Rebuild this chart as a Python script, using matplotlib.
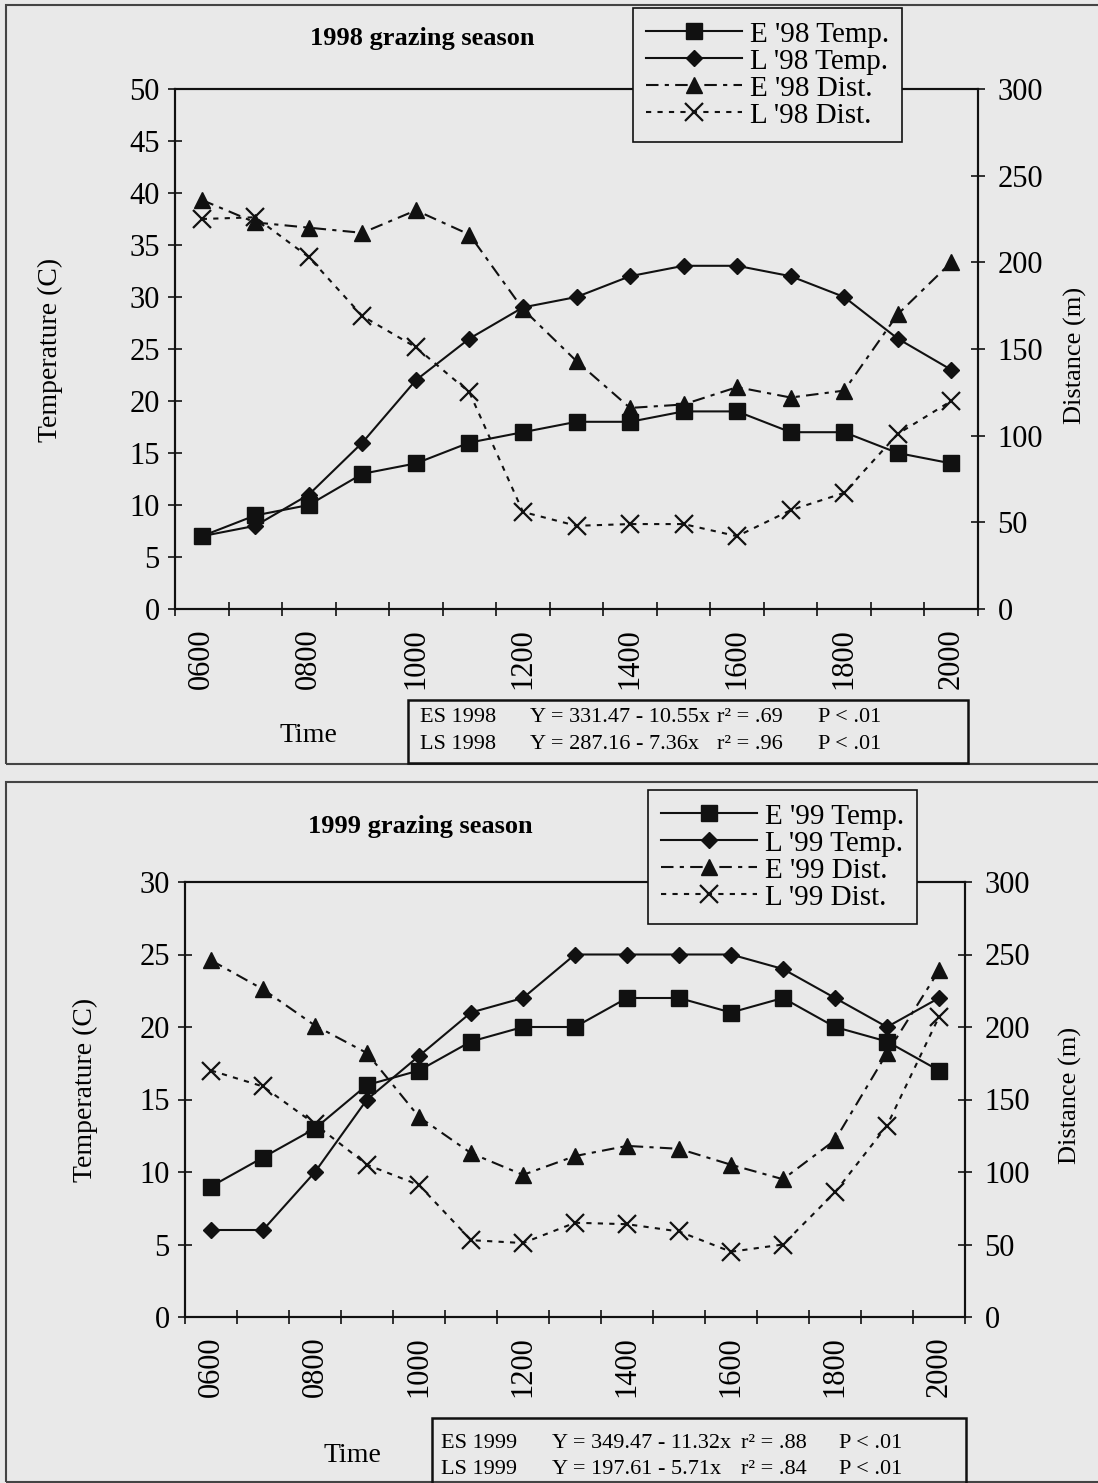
import numpy as np
import matplotlib.pyplot as plt
from matplotlib.patches import Rectangle

# hours 0600..2000, one reading per hour
hours = ['0600', '0700', '0800', '0900', '1000', '1100', '1200', '1300',
         '1400', '1500', '1600', '1700', '1800', '1900', '2000']
hour_labels = ['0600', '0800', '1000', '1200', '1400', '1600', '1800', '2000']

# 1998 season
e98_temp = [7, 9, 10, 13, 14, 16, 17, 18, 18, 19, 19, 17, 17, 15, 14]
l98_temp = [7, 8, 11, 16, 22, 26, 29, 30, 32, 33, 33, 32, 30, 26, 23]
e98_dist = [236, 223, 220, 217, 230, 216, 173, 143, 116, 118, 128, 122, 126, 170, 200]
l98_dist = [225, 226, 203, 169, 151, 125, 56, 48, 49, 49, 42, 57, 67, 101, 120]

# 1999 season
e99_temp = [9, 11, 13, 16, 17, 19, 20, 20, 22, 22, 21, 22, 20, 19, 17]
l99_temp = [6, 6, 10, 15, 18, 21, 22, 25, 25, 25, 25, 24, 22, 20, 22]
e99_dist = [246, 226, 201, 182, 138, 113, 98, 111, 118, 116, 105, 95, 122, 182, 239]
l99_dist = [170, 159, 133, 105, 91, 53, 51, 65, 64, 59, 45, 50, 86, 132, 207]

stats98 = [['ES 1998', 'Y = 331.47 - 10.55x', 'r\u00b2 = .69', 'P < .01'],
           ['LS 1998', 'Y = 287.16 - 7.36x', 'r\u00b2 = .96', 'P < .01']]
stats99 = [['ES 1999', 'Y = 349.47 - 11.32x', 'r\u00b2 = .88', 'P < .01'],
           ['LS 1999', 'Y = 197.61 - 5.71x', 'r\u00b2 = .84', 'P < .01']]

plt.rcParams['font.family'] = ['Liberation Serif', 'DejaVu Serif']

W, H = 1098, 1483
BG = '#e9e9e9'
INK = '#111111'
FS = 19
TICK_FS = 22

fig = plt.figure(figsize=(W / 100, H / 100), dpi=100, facecolor=BG)


def rect(l, t, r, b):
    return [l / W, 1 - b / H, (r - l) / W, (b - t) / H]


def fx(x):
    return x / W


def fy(y):
    return 1 - y / H


def panel(box, tmax, tstep, series, year, title_xy, leg_xy, time_xy,
          tlab_xy, dlab_xy, sbox, stats, scols, srows):
    ax = fig.add_axes(rect(*box))
    ax.set_facecolor('none')
    ax2 = ax.twinx()
    x = np.arange(len(hours))
    et, lt, ed, ld = series

    h1, = ax.plot(x, et, color=INK, lw=1.5, marker='s', ms=12)
    h2, = ax.plot(x, lt, color=INK, lw=1.5, marker='D', ms=8)
    h3, = ax2.plot(x, ed, color=INK, lw=1.5, ls=(0, (6, 3, 2, 3)),
                   marker='^', ms=11)
    h4, = ax2.plot(x, ld, color=INK, lw=1.5, ls=(0, (2.5, 3)),
                   marker='x', ms=13, mew=1.6)

    ax.set_xlim(-0.5, len(hours) - 0.5)
    ax.set_ylim(0, tmax)
    ax2.set_ylim(0, 300)
    ax.set_yticks(np.arange(0, tmax + 1, tstep))
    ax2.set_yticks(np.arange(0, 301, 50))

    ax.set_xticks(np.arange(-0.5, len(hours), 1))
    ax.set_xticklabels([])
    ax.set_xticks(np.arange(0, len(hours), 2), minor=True)
    ax.set_xticklabels(hour_labels, minor=True, rotation=90, fontsize=TICK_FS)
    ax.tick_params(axis='x', which='minor', length=0, pad=14)
    ax.tick_params(axis='x', which='major', direction='inout', length=10,
                   width=1.2, color=INK)
    ax.tick_params(axis='y', direction='inout', length=10, width=1.2,
                   labelsize=TICK_FS, pad=6, color=INK)
    ax2.tick_params(axis='y', direction='inout', length=10, width=1.2,
                    labelsize=TICK_FS, pad=9, color=INK)
    for a in (ax, ax2):
        for s in a.spines.values():
            s.set_linewidth(1.5)
            s.set_color(INK)

    fig.text(fx(title_xy[0]), fy(title_xy[1]), f'{year} grazing season',
             ha='center', va='center', fontsize=FS, fontweight='bold')
    fig.text(fx(time_xy[0]), fy(time_xy[1]), 'Time', ha='center',
             va='center', fontsize=20)
    fig.text(fx(tlab_xy[0]), fy(tlab_xy[1]), 'Temperature (C)', ha='center',
             va='center', rotation=90, fontsize=20)
    fig.text(fx(dlab_xy[0]), fy(dlab_xy[1]), 'Distance (m)', ha='center',
             va='center', rotation=90, fontsize=FS)

    yy = year[-2:]
    labels = [f"E '{yy} Temp.", f"L '{yy} Temp.", f"E '{yy} Dist.",
              f"L '{yy} Dist."]
    leg = fig.legend([h1, h2, h3, h4], labels, loc='upper left',
                     bbox_to_anchor=(fx(leg_xy[0]), fy(leg_xy[1])),
                     fontsize=21, frameon=True, fancybox=False,
                     edgecolor=INK, facecolor=BG, framealpha=1,
                     handlelength=3.3, handletextpad=0.25, labelspacing=0.02,
                     borderpad=0.45, borderaxespad=0)
    leg.get_frame().set_linewidth(1.2)

    l, t, r, b = sbox
    fig.patches.append(Rectangle((fx(l), fy(b)), fx(r - l), (b - t) / H,
                                 transform=fig.transFigure, fill=False,
                                 ec=INK, lw=1.8))
    for row, yv in zip(stats, srows):
        for txt, xv in zip(row, scols):
            fig.text(fx(xv), fy(yv), txt, ha='left', va='center', fontsize=16)


# outer frames of the two figure panels
fig.patches.append(Rectangle((fx(6), fy(764)), fx(1200), 759 / H,
                             transform=fig.transFigure, fill=False,
                             ec='#444444', lw=1.5))
fig.patches.append(Rectangle((fx(6), fy(1482)), fx(1200), 700 / H,
                             transform=fig.transFigure, fill=False,
                             ec='#444444', lw=1.5))

panel((175, 89, 978, 609), 50, 5, (e98_temp, l98_temp, e98_dist, l98_dist),
      '1998', (422, 38), (633, 8), (308, 735), (50, 350), (1075, 355),
      (408, 700, 968, 763), stats98, (420, 530, 717, 818), (718, 745))

panel((185, 882, 965, 1317), 30, 5, (e99_temp, l99_temp, e99_dist, l99_dist),
      '1999', (420, 826), (648, 790), (352, 1455), (85, 1090), (1070, 1095),
      (432, 1418, 966, 1500), stats99, (441, 552, 741, 839), (1443, 1470))

fig.savefig('out.png', dpi=100, facecolor=BG)
